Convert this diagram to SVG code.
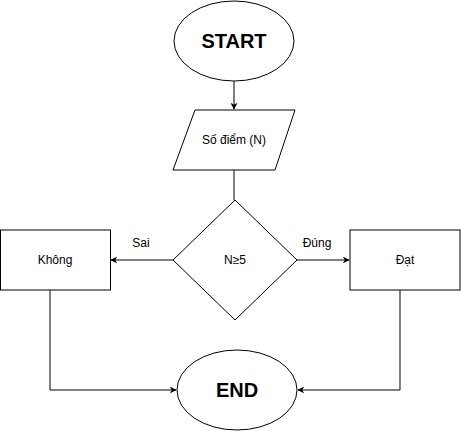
<svg xmlns="http://www.w3.org/2000/svg" width="461" height="431" viewBox="0 0 461 431">
<defs>
<style>
.s{fill:#fff;stroke:#000;stroke-width:1}
.t{font-family:"Liberation Sans",Arial,sans-serif;font-size:12px;fill:#000;text-anchor:middle;dominant-baseline:central}
.b{font-family:"Liberation Sans",Arial,sans-serif;font-size:20px;font-weight:bold;fill:#000;text-anchor:middle;dominant-baseline:central}
.c{fill:none;stroke:#000;stroke-width:1}
</style>
<marker id="a" viewBox="0 0 10 10" refX="9" refY="5" markerWidth="7" markerHeight="7" markerUnits="userSpaceOnUse" orient="auto">
<path d="M0,0 L10,5 L0,10 L3,5 Z" fill="#000"/>
</marker>
</defs>
<rect width="461" height="431" fill="#fff"/>
<g id="connectors">
<path class="c" d="M234,81 V109" marker-end="url(#a)"/>
<path class="c" d="M234,170 V200"/>
<path class="c" d="M173,260 H111" marker-end="url(#a)"/>
<path class="c" d="M297,260 H349" marker-end="url(#a)"/>
<path class="c" d="M50,290 V390 H176" marker-end="url(#a)"/>
<path class="c" d="M400,290 V390 H298" marker-end="url(#a)"/>
<text class="t" x="141" y="243">Sai</text>
<text class="t" x="317" y="243">Đúng</text>
</g>
<g id="start">
<ellipse class="s" cx="234" cy="41" rx="60" ry="40"/>
<text class="b" x="234" y="41">START</text>
</g>
<g id="input">
<polygon class="s" points="195,110 295,110 275,170 173,170"/>
<text class="t" x="234" y="140">Số điểm (N)</text>
</g>
<g id="decision">
<polygon class="s" points="235,200 297,260 235,320 173,260"/>
<text class="t" x="235" y="260">N≥5</text>
</g>
<g id="khong">
<rect class="s" x="0.5" y="230" width="110" height="60"/>
<text class="t" x="55" y="260">Không</text>
</g>
<g id="dat">
<rect class="s" x="350" y="230" width="110" height="60"/>
<text class="t" x="405" y="260">Đạt</text>
</g>
<g id="end">
<ellipse class="s" cx="237" cy="390" rx="60" ry="40"/>
<text class="b" x="237" y="390">END</text>
</g>
</svg>
